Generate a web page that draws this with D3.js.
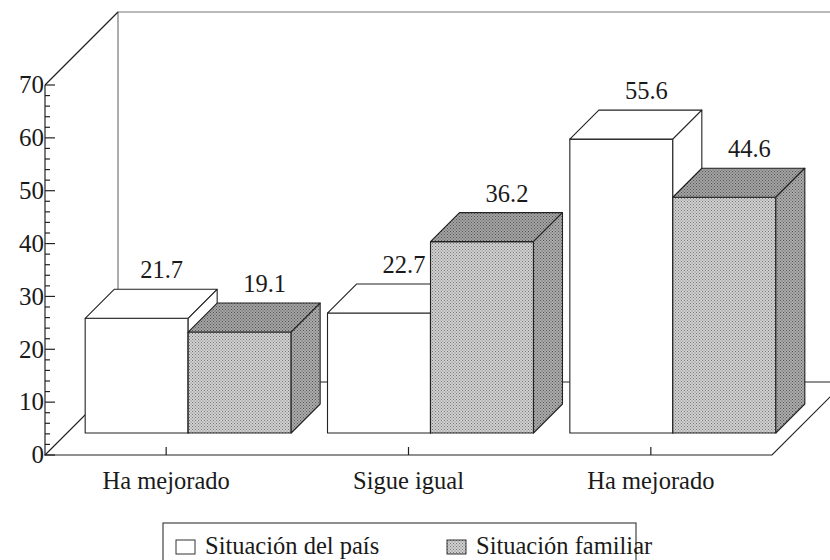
<!DOCTYPE html>
<html>
<head>
  <meta charset="utf-8">
  <script src="https://d3js.org/d3.v7.min.js"></script>
  <title>Situación del país / familiar</title>
  <style>
    body { margin: 0; background: #ffffff; }
    .frame { fill: none; stroke: #222; stroke-width: 1.2px; }
    .back { fill: none; stroke: #777; stroke-width: 1.2px; }
    .face { stroke: #222; stroke-width: 1.1px; stroke-linejoin: round; }
  </style>
</head>
<body>
<div id="chart"></div>
<script>

// data
var categories = ["Ha mejorado", "Sigue igual", "Ha mejorado"];
var series = ["Situación del país", "Situación familiar"];
var pais = [21.7, 22.7, 55.6];
var familiar = [19.1, 36.2, 44.6];
var yTicks = [0, 10, 20, 30, 40, 50, 60, 70];

var width = 830, height = 560;
var depth = 73;      // depth of the floor / walls
var barFront = 22;   // where the bars start inside the depth
var barDepth = 29;   // how deep each bar is
var font = "'Liberation Serif', 'DejaVu Serif', serif";

var svg = d3.select("#chart").append("svg")
  .attr("width", width)
  .attr("height", height)
  .attr("font-family", font)
  .style("font-family", font);

// patterns for the grey bars
var defs = svg.append("defs");
function halftone(id, bg, dot) {
  var p = defs.append("pattern")
    .attr("id", id)
    .attr("width", 3).attr("height", 3)
    .attr("patternUnits", "userSpaceOnUse");
  p.append("rect").attr("width", 3).attr("height", 3).attr("fill", bg);
  p.append("rect").attr("x", 0).attr("y", 0).attr("width", 1).attr("height", 1).attr("fill", dot);
  p.append("rect").attr("x", 1.5).attr("y", 1.5).attr("width", 1).attr("height", 1).attr("fill", dot);
}
halftone("gFront", "#d2d2d2", "#767676");
halftone("gTop", "#a4a4a4", "#555555");
halftone("gSide", "#acacac", "#575757");

var fills = [
  { front: "#ffffff", top: "#ffffff", side: "#ffffff" },
  { front: "url(#gFront)", top: "url(#gTop)", side: "url(#gSide)" }
];

var x0 = d3.scaleBand()
  .domain(d3.range(categories.length))
  .range([45, 772])
  .paddingInner(0.15)
  .paddingOuter(0.075);

var x1 = d3.scaleBand()
  .domain(d3.range(series.length))
  .range([0, x0.bandwidth()]);

var y = d3.scaleLinear().domain([0, 70]).range([455, 85]);

var left = x0.range()[0], right = x0.range()[1], base = y(0);

// back wall and floor
svg.append("path").attr("class", "back")
  .attr("d", "M" + (left + depth) + "," + (base - depth) + "V" + (y(70) - depth) + "H" + (width + 20));
svg.append("path").attr("class", "frame")
  .attr("d", "M" + left + "," + y(70) + "L" + (left + depth) + "," + (y(70) - depth));
svg.append("path").attr("class", "frame")
  .attr("d", "M" + left + "," + base + "L" + (left + depth) + "," + (base - depth) +
    "H" + (right + depth) + "L" + right + "," + base + "Z");

// y axis with minor ticks
svg.append("line").attr("class", "frame")
  .attr("x1", left).attr("x2", left).attr("y1", y(0)).attr("y2", y(70));
svg.append("g").selectAll("line")
  .data(d3.range(0, 71, 2))
  .enter().append("line")
  .attr("class", "frame")
  .attr("x1", left)
  .attr("x2", function(d) { return d % 10 === 0 ? left + 10 : left + 5; })
  .attr("y1", function(d) { return y(d); })
  .attr("y2", function(d) { return y(d); });
svg.append("g").selectAll("text")
  .data(yTicks)
  .enter().append("text")
  .attr("x", left - 1)
  .attr("y", function(d) { return y(d); })
  .attr("dy", "0.33em")
  .attr("fill", "#1a1a1a")
  .style("text-anchor", "end")
  .style("font-size", "25px")
  .text(function(d) { return d; });

// x ticks and category labels
svg.append("g").selectAll("line")
  .data(categories)
  .enter().append("line")
  .attr("class", "frame")
  .attr("x1", function(d, i) { return x0(i) + x0.bandwidth() / 2; })
  .attr("x2", function(d, i) { return x0(i) + x0.bandwidth() / 2; })
  .attr("y1", base).attr("y2", base - 8);
svg.append("g").selectAll("text")
  .data(categories)
  .enter().append("text")
  .attr("x", function(d, i) { return x0(i) + x0.bandwidth() / 2; })
  .attr("y", base + 34)
  .attr("fill", "#1a1a1a")
  .style("text-anchor", "middle")
  .style("font-size", "24.5px")
  .text(function(d) { return d; });

// 3d bars
var bars = [];
categories.forEach(function(c, i) {
  [pais[i], familiar[i]].forEach(function(v, s) {
    bars.push({ cat: i, s: s, value: v });
  });
});

var g = svg.append("g");
bars.forEach(function(d) {
  var xl = x0(d.cat) + x1(d.s) + barFront;
  var xr = xl + x1.bandwidth();
  var yb = base - barFront;
  var yt = y(d.value) - barFront;
  var f = fills[d.s];

  g.append("path").attr("class", "face").attr("fill", f.front)
    .attr("d", "M" + xl + "," + yb + "H" + xr + "V" + yt + "H" + xl + "Z");
  g.append("path").attr("class", "face").attr("fill", f.top)
    .attr("d", "M" + xl + "," + yt + "L" + (xl + barDepth) + "," + (yt - barDepth) +
      "H" + (xr + barDepth) + "L" + xr + "," + yt + "Z");
  g.append("path").attr("class", "face").attr("fill", f.side)
    .attr("d", "M" + xr + "," + yb + "V" + yt + "L" + (xr + barDepth) + "," + (yt - barDepth) +
      "V" + (yb - barDepth) + "Z");

  g.append("text")
    .attr("x", (xl + xr) / 2 + 25)
    .attr("y", yt - barDepth - 11)
    .attr("fill", "#1a1a1a")
    .style("text-anchor", "middle")
    .style("font-size", "24.5px")
    .text(d.value.toFixed(1));
});

// legend
var legend = svg.append("g");
legend.append("rect")
  .attr("x", 163).attr("y", 523).attr("width", 473).attr("height", 50)
  .attr("fill", "none").attr("stroke", "#444").attr("stroke-width", 1.2);
var legendX = [176, 447];
series.forEach(function(s, i) {
  legend.append("rect")
    .attr("x", legendX[i]).attr("y", 540).attr("width", 19).attr("height", 14)
    .attr("fill", fills[i].front).attr("stroke", "#333").attr("stroke-width", 1);
  legend.append("text")
    .attr("x", legendX[i] + 29).attr("y", 554)
    .attr("fill", "#1a1a1a")
    .style("font-size", "24.5px")
    .text(s);
});

</script>
</body>
</html>
